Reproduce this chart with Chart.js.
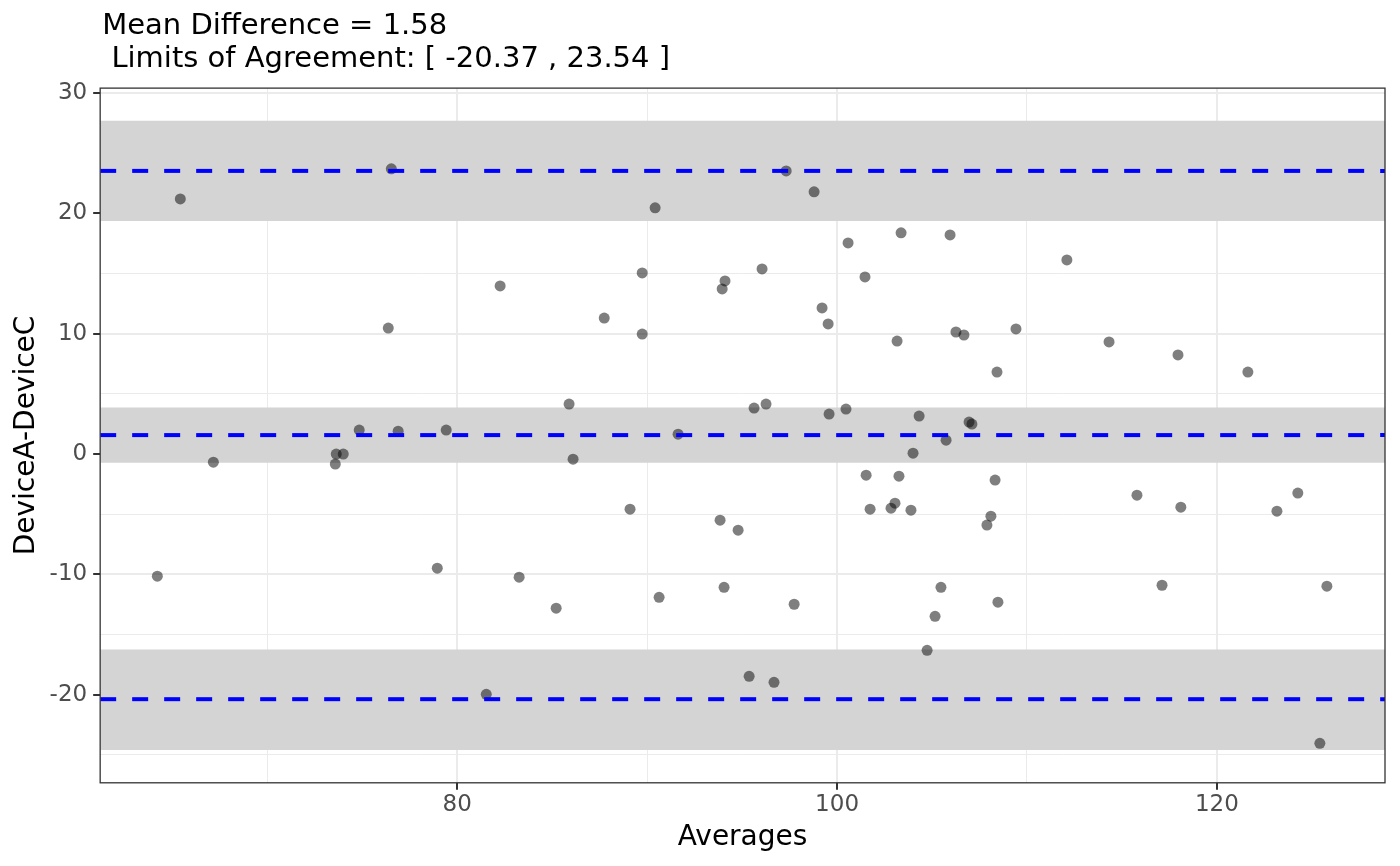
<!DOCTYPE html>
<html>
<head>
<meta charset="utf-8">
<script src="https://cdn.jsdelivr.net/npm/chart.js@4.4.1/dist/chart.umd.min.js"></script>
<style>
  html, body { margin: 0; padding: 0; background: #ffffff; }
  #wrap { width: 1400px; height: 866px; }
</style>
</head>
<body>
<div id="wrap"><canvas id="baPlot"></canvas></div>
<script>
// averages (x) and differences (y)
var averages = [65.42, 64.21, 67.16, 76.53, 76.37, 74.84, 76.89, 73.63, 74.0, 73.58,
  79.42, 78.95, 81.53, 83.26, 82.26, 85.21, 85.89, 86.1, 87.74, 89.1,
  89.74, 89.74, 90.42, 90.63, 91.63, 93.95, 94.1, 93.84, 94.05, 94.79,
  95.37, 95.63, 96.05, 96.26, 96.68, 97.32, 97.74, 98.79, 99.21, 99.53,
  99.58, 100.47, 100.58, 101.47, 101.53, 101.74, 102.84, 103.05, 103.16, 103.26,
  103.37, 104.32, 104.0, 103.89, 104.74, 105.16, 105.47, 105.74, 105.95, 106.26,
  106.68, 106.95, 107.1, 107.89, 108.1, 108.32, 108.42, 108.47, 109.42, 112.1,
  114.32, 115.79, 117.11, 117.95, 118.1, 121.63, 123.16, 124.26, 125.42, 125.79];
var differences = [21.21, -10.15, -0.67, 23.71, 10.48, 2.0, 1.91, 0.0, 0.0, -0.83,
  2.0, -9.48, -19.97, -10.23, 13.98, -12.81, 4.16, -0.42, 11.31, -4.58,
  15.06, 9.98, 20.47, -11.9, 1.66, 13.73, 14.39, -5.49, -11.07, -6.32,
  -18.47, 3.83, 15.39, 4.16, -18.97, 23.54, -12.48, 21.8, 12.15, 10.82,
  3.33, 3.74, 17.55, 14.73, -1.75, -4.58, -4.49, -4.08, 9.4, -1.83,
  18.39, 3.16, 0.08, -4.66, -16.31, -13.48, -11.07, 1.16, 18.22, 10.15,
  9.9, 2.66, 2.5, -5.9, -5.16, -2.16, 6.82, -12.31, 10.4, 16.14,
  9.32, -3.41, -10.9, 8.24, -4.41, 6.82, -4.74, -3.24, -24.04, -10.98];

// mean difference and limits of agreement: [lower, mean, upper]
var agreementLines = [-20.37, 1.58, 23.54];
// confidence bands round each line: [bottom, top]
var bandLower = [-24.6, -16.25];
var bandMean = [-0.72, 3.88];
var bandUpper = [19.38, 27.7];

var xLimits = [61.2, 128.85];
var yLimits = [-27.32, 30.42];

var titleLines = ["Mean Difference = 1.58", " Limits of Agreement: [ -20.37 , 23.54 ]"];

var points = averages.map(function (a, i) { return { x: a, y: differences[i] }; });

function hline(v) {
  return [{ x: xLimits[0], y: v }, { x: xLimits[1], y: v }];
}

function bandSet(b) {
  return {
    type: "line",
    data: hline(b[1]),
    fill: { value: b[0] },
    backgroundColor: "#d4d4d4",
    borderWidth: 0,
    pointRadius: 0,
    order: 3
  };
}

function lineSet(v) {
  return {
    type: "line",
    data: hline(v),
    fill: false,
    borderColor: "#0000ff",
    borderWidth: 4,
    borderDash: [16, 16],
    borderCapStyle: "butt",
    pointRadius: 0,
    order: 1
  };
}

// put the title at the panel's left edge and draw the panel border
var panelPlugin = {
  id: "panel",
  afterLayout: function (chart) {
    if (chart.titleBlock) {
      chart.titleBlock.left = chart.chartArea.left + 2;
    }
  },
  afterDatasetsDraw: function (chart) {
    var a = chart.chartArea, c = chart.ctx;
    c.save();
    c.strokeStyle = "#333333";
    c.lineWidth = 1.3;
    c.strokeRect(a.left, a.top, a.right - a.left, a.bottom - a.top);
    c.restore();
  }
};

var ctx = document.getElementById("baPlot").getContext("2d");
var chart = new Chart(ctx, {
  type: "scatter",
  data: {
    datasets: [
      bandSet(bandUpper), bandSet(bandMean), bandSet(bandLower),
      lineSet(agreementLines[0]), lineSet(agreementLines[1]), lineSet(agreementLines[2]),
      {
        data: points,
        backgroundColor: "rgba(0, 0, 0, 0.5)",
        borderWidth: 0,
        pointRadius: 5.5,
        order: 2
      }
    ]
  },
  options: {
    responsive: true,
    maintainAspectRatio: false,
    animation: false,
    devicePixelRatio: 1,
    layout: { padding: { left: 0, right: 15, top: 0, bottom: 0 } },
    plugins: {
      legend: { display: false },
      tooltip: { enabled: false },
      title: {
        display: true,
        text: titleLines,
        align: "start",
        color: "#000000",
        font: { family: "DejaVu Sans", size: 29, weight: "normal", lineHeight: 1.14 },
        padding: { top: 9.5, bottom: 12.5 }
      }
    },
    scales: {
      x: {
        type: "linear",
        min: xLimits[0],
        max: xLimits[1],
        border: { display: false },
        grid: {
          color: "#ebebeb",
          lineWidth: function (c) { return c.tick && c.tick.value % 20 === 0 ? 2 : 1; },
          tickColor: function (c) { return c.tick && c.tick.value % 20 === 0 ? "#333333" : "rgba(0,0,0,0)"; },
          tickWidth: 2,
          tickLength: 7
        },
        ticks: {
          stepSize: 10,
          includeBounds: false,
          autoSkip: false,
          maxRotation: 0,
          padding: 1,
          color: "#4d4d4d",
          font: { family: "DejaVu Sans", size: 23 },
          callback: function (v) { return v % 20 === 0 ? v : ""; }
        },
        title: {
          display: true,
          text: "Averages",
          color: "#000000",
          font: { family: "DejaVu Sans", size: 28 },
          padding: { top: 2, bottom: 11 }
        }
      },
      y: {
        type: "linear",
        min: yLimits[0],
        max: yLimits[1],
        border: { display: false },
        grid: {
          color: "#ebebeb",
          lineWidth: function (c) { return c.tick && c.tick.value % 10 === 0 ? 2 : 1; },
          tickColor: function (c) { return c.tick && c.tick.value % 10 === 0 ? "#333333" : "rgba(0,0,0,0)"; },
          tickWidth: 2,
          tickLength: 7
        },
        ticks: {
          stepSize: 5,
          includeBounds: false,
          autoSkip: false,
          padding: 6,
          color: "#4d4d4d",
          font: { family: "DejaVu Sans", size: 23 },
          callback: function (v) { return v % 10 === 0 ? v : ""; }
        },
        title: {
          display: true,
          text: "DeviceA-DeviceC",
          color: "#000000",
          font: { family: "DejaVu Sans", size: 28 },
          padding: { top: 10, bottom: 0 }
        }
      }
    }
  },
  plugins: [panelPlugin]
});
</script>
</body>
</html>
